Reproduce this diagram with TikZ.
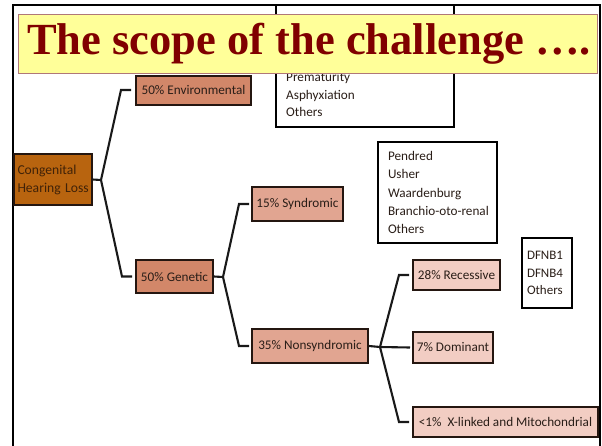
\documentclass[tikz,border=0pt]{standalone}
\usepackage{fontspec}
\setmainfont{Carlito}
\newfontfamily\titlefont{Liberation Serif}
\usetikzlibrary{calc}
\definecolor{corange}{HTML}{B8640F}
\definecolor{cmid}{HTML}{D28769}
\definecolor{csyn}{HTML}{E1A591}
\definecolor{clight}{HTML}{F2CDC3}
\definecolor{boxline}{HTML}{241610}
\definecolor{txt}{HTML}{2A1E18}
\definecolor{congtxt}{HTML}{402208}
\definecolor{titlered}{HTML}{800000}
\definecolor{titlefill}{HTML}{FFFF99}
\definecolor{titleline}{HTML}{B07878}
\tikzset{
  catbox/.style={draw=boxline, line width=2pt, text=txt, inner sep=0pt,
    font=\fontsize{13.2}{18}\selectfont},
  listbox/.style={draw=black, line width=2pt, text=txt, inner sep=0pt,
    font=\fontsize{13.2}{18.3}\selectfont},
  conn/.style={draw=black!90, line width=2.1pt},
  frameline/.style={draw=black, line width=2.5pt}
}
\begin{document}
\begin{tikzpicture}[x=1pt,y=-1pt]
\useasboundingbox (0,0) rectangle (602,445);
\fill[white] (0,0) rectangle (602,445);

% box partly hidden behind the title
\draw[listbox] (276,5) rectangle (454,127);
\node[anchor=west, align=left, text=txt, inner sep=0pt,
  font=\fontsize{13.2}{17.5}\selectfont] (prem) at (286,95)
  {Prematurity\\Asphyxiation\\Others};

% frame
\draw[frameline] (13,447) -- (13,5) -- (600,5) -- (600,447);

% nodes
\node[catbox, fill=corange, text=congtxt, minimum width=78pt, minimum height=51pt,
  text width=70pt, align=left, font=\fontsize{13.6}{18}\selectfont] (cong) at (52.5,179.5)
  {\mbox{Congenital}\\\mbox{Hearing Loss}};
\node[catbox, fill=cmid, minimum width=115pt, minimum height=29pt] (env) at (193.5,90) {50\% Environmental};
\node[catbox, fill=cmid, minimum width=77pt, minimum height=33pt] (gen) at (174.5,276.5) {50\% Genetic};
\node[catbox, fill=csyn, minimum width=91pt, minimum height=34pt] (syn) at (297.5,204) {15\% Syndromic};
\node[catbox, fill=csyn, minimum width=116pt, minimum height=34pt] (non) at (310,346) {35\% Nonsyndromic};
\node[catbox, fill=clight, minimum width=87pt, minimum height=30pt] (rec) at (456.5,275) {28\% Recessive};
\node[catbox, fill=clight, minimum width=80pt, minimum height=31pt] (dom) at (453,347.5) {7\% Dominant};
\node[catbox, fill=clight, minimum width=185pt, minimum height=30pt] (xl) at (505.5,422) {<1\%\ \ X-linked and Mitochondrial};

\node[listbox, minimum width=119pt, minimum height=101pt, text width=99pt, align=left] (pend) at (437.5,192.5)
  {Pendred\\Usher\\Waardenburg\\\mbox{Branchio-oto-renal}\\Others};
\node[listbox, minimum width=50pt, minimum height=70pt, text width=40pt, align=left,
  font=\fontsize{13}{17.5}\selectfont] (dfnb) at (547,273) {DFNB1\\DFNB4\\Others};

% connectors
\coordinate (j1) at (101,180);
\coordinate (j2) at (223,277);
\coordinate (j3) at (380,347);
\draw[conn] (cong.east) -- (j1);
\draw[conn] (j1) -- ([xshift=-14pt]env.west) -- ([xshift=-4pt]env.west);
\draw[conn] (j1) -- ([xshift=-13pt]gen.west) -- ([xshift=-3pt]gen.west);
\draw[conn] (gen.east) -- (j2);
\draw[conn] (j2) -- ([xshift=-12pt]syn.west) -- ([xshift=-2pt]syn.west);
\draw[conn] (j2) -- ([xshift=-12pt]non.west) -- ([xshift=-2pt]non.west);
\draw[conn] (non.east) -- (j3);
\draw[conn] (j3) -- ([xshift=-13pt]rec.west) -- ([xshift=-3pt]rec.west);
\draw[conn] (j3) -- ([xshift=-2pt]dom.west);
\draw[conn] (j3) -- ([xshift=-13pt]xl.west) -- ([xshift=-3pt]xl.west);

% title
\node[draw=titleline, line width=1pt, fill=titlefill, minimum width=579pt, minimum height=59pt,
  inner sep=0pt, text=titlered, font=\titlefont\bfseries\fontsize{44.5}{44}\selectfont]
  (title) at (307.5,43.5) {\hspace*{3pt}The scope of the challenge ….};
\end{tikzpicture}
\end{document}
